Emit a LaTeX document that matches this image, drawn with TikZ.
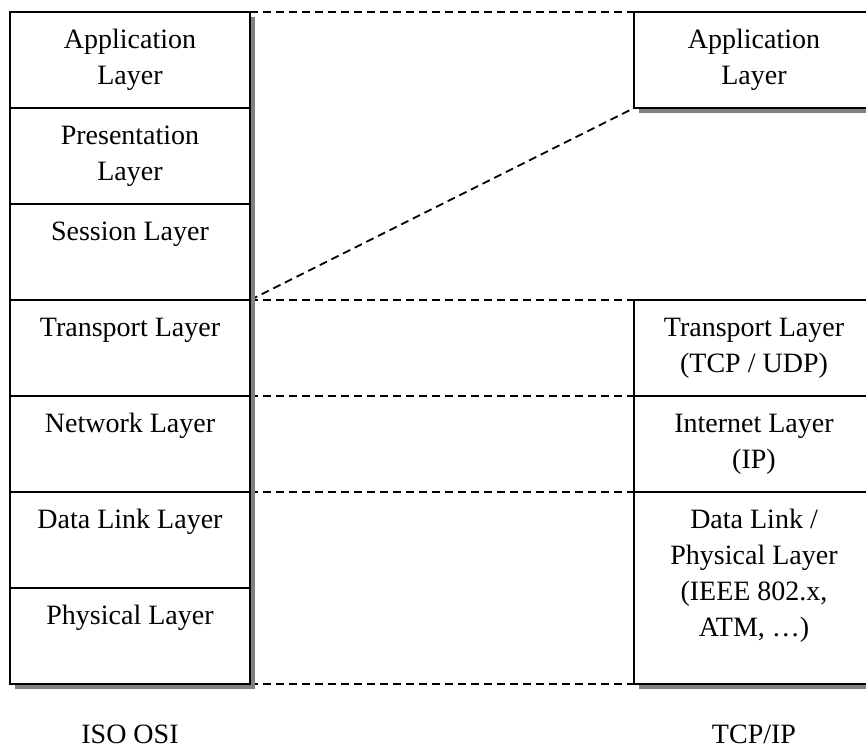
\documentclass[tikz,border=0pt]{standalone}
\usepackage{fontspec}
\setmainfont{Liberation Serif}
\usepackage{tikz}
\usetikzlibrary{positioning,backgrounds,shadows}
\usepackage{xcolor}
\definecolor{shadowgray}{rgb}{0.5,0.5,0.5}
\tikzset{
  layer/.style={draw, line width=1.2pt, fill=white, outer sep=0pt,
    inner xsep=2pt, inner ysep=0pt, text width=116pt, align=center,
    text height=18pt, text depth=30pt,
    execute at begin node={\spaceskip=\fontdimen2\font\relax},
    general shadow={fill=shadowgray, shadow xshift=2.5pt, shadow yshift=-2.5pt}},
  tall/.style={text depth=78pt},
  gap/.style={dashed, line width=0.9pt, dash pattern=on 4pt off 2.5pt}
}
\begin{document}
\begin{tikzpicture}[x=0.5pt, y=-0.5pt, font=\fontsize{14pt}{18pt}\selectfont]
        \useasboundingbox (0,0) rectangle (866,746);
        \clip (0,0) rectangle (866,746);
        % ISO OSI stack
        \node[layer, anchor=north west] (iso1) at (10,12) {Application\\Layer};
        \node[layer, below=0pt of iso1] (iso2) {Presentation\\Layer};
        \node[layer, below=0pt of iso2] (iso3) {Session Layer};
        \node[layer, below=0pt of iso3] (iso4) {Transport Layer};
        \node[layer, below=0pt of iso4] (iso5) {Network Layer};
        \node[layer, below=0pt of iso5] (iso6) {Data Link Layer};
        \node[layer, below=0pt of iso6] (iso7) {Physical Layer};
        % TCP/IP stack
        \node[layer, right=192pt of iso1] (tcp1) {Application\\Layer};
        \node[layer, right=192pt of iso4] (tcp2) {Transport Layer\\(TCP / UDP)};
        \node[layer, below=0pt of tcp2] (tcp3) {Internet Layer\\(IP)};
        \node[layer, tall, below=0pt of tcp3] (tcp4) {Data Link /\\Physical Layer\\(IEEE 802.x,\\ATM, \dots)};
        \node[below=29.5pt of iso7, anchor=base] (isoname) {ISO OSI};
        \node[below=29.5pt of tcp4, anchor=base] (tcpname) {TCP/IP};
        \begin{scope}[on background layer]
          \draw[gap] (iso1.north east) -- (tcp1.north west);
          \draw[gap] (iso3.south east) -- (tcp1.south west);
          \draw[gap] (iso4.north east) -- (tcp2.north west);
          \draw[gap] (iso5.north east) -- (tcp3.north west);
          \draw[gap] (iso6.north east) -- (tcp4.north west);
          \draw[gap] (iso7.south east) -- (tcp4.south west);
        \end{scope}
      \end{tikzpicture}
\end{document}
